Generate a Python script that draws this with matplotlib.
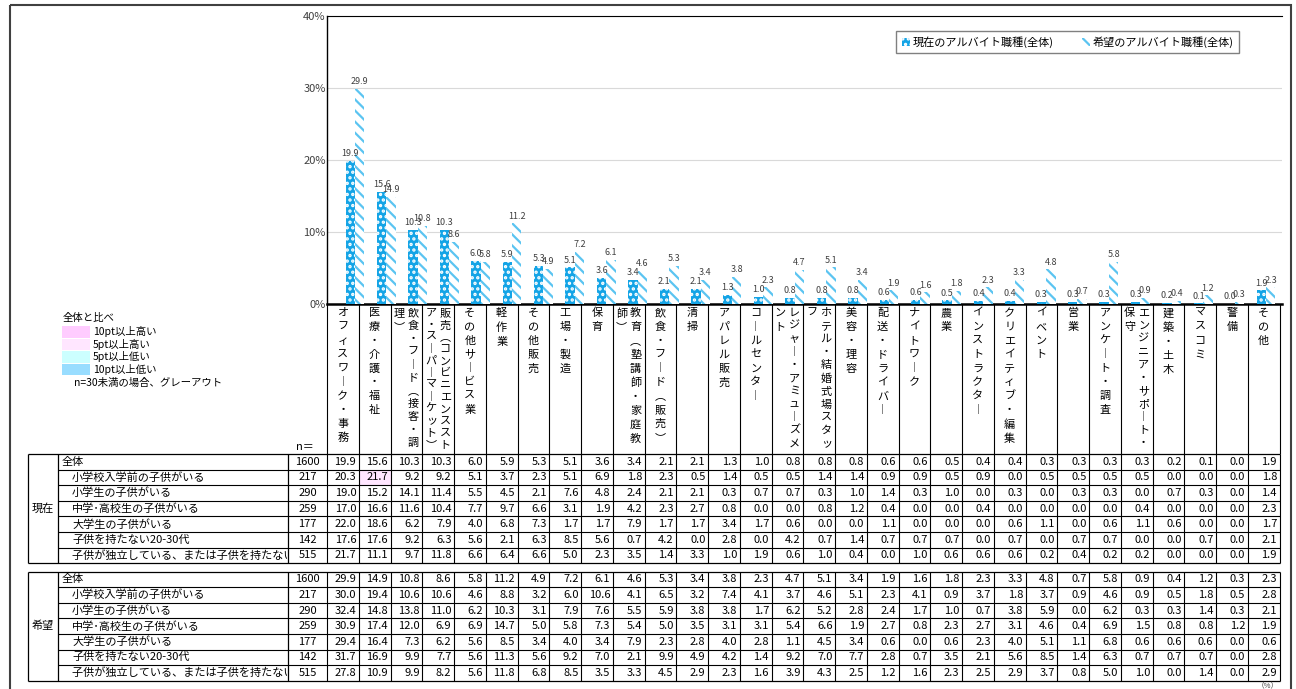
import numpy as np
import matplotlib.pyplot as plt
from matplotlib.patches import Rectangle
from matplotlib.transforms import Bbox, TransformedBbox

plt.rcParams['font.family'] = ['Noto Sans CJK JP', 'DejaVu Sans']
plt.rcParams['hatch.linewidth'] = 1.6

# ---- data ----
categories = ['オフィスワーク・事務', '医療・介護・福祉', '飲食・フード（接客・調理）',
              '販売（コンビニエンスストア・スーパーマーケット）', 'その他サービス業', '軽作業',
              'その他販売', '工場・製造', '保育', '教育（塾講師・家庭教師）', '飲食・フード（販売）',
              '清掃', 'アパレル販売', 'コールセンター', 'レジャー・アミューズメント',
              'ホテル・結婚式場スタッフ', '美容・理容', '配送・ドライバー', 'ナイトワーク', '農業',
              'インストラクター', 'クリエイティブ・編集', 'イベント', '営業', 'アンケート・調査',
              'エンジニア・サポート・保守', '建築・土木', 'マスコミ', '警備', 'その他']
# number of characters in the first (right) column of a wrapped vertical label, 0 = no wrap
label_split = [0, 0, 11, 12, 0, 0, 0, 0, 0, 10, 0, 0, 0, 0, 11,
               11, 0, 0, 0, 0, 0, 0, 0, 0, 0, 11, 0, 0, 0, 0]

now_all = [19.9, 15.6, 10.3, 10.3, 6.0, 5.9, 5.3, 5.1, 3.6, 3.4, 2.1, 2.1, 1.3, 1.0, 0.8,
           0.8, 0.8, 0.6, 0.6, 0.5, 0.4, 0.4, 0.3, 0.3, 0.3, 0.3, 0.2, 0.1, 0.0, 1.9]
hope_all = [29.9, 14.9, 10.8, 8.6, 5.8, 11.2, 4.9, 7.2, 6.1, 4.6, 5.3, 3.4, 3.8, 2.3, 4.7,
            5.1, 3.4, 1.9, 1.6, 1.8, 2.3, 3.3, 4.8, 0.7, 5.8, 0.9, 0.4, 1.2, 0.3, 2.3]

row_labels = ['全体', '小学校入学前の子供がいる', '小学生の子供がいる', '中学･高校生の子供がいる',
              '大学生の子供がいる', '子供を持たない20-30代', '子供が独立している、または子供を持たない40 50代']
row_n = [1600, 217, 290, 259, 177, 142, 515]

now_rows = [
    now_all,
    [20.3, 21.7, 9.2, 9.2, 5.1, 3.7, 2.3, 5.1, 6.9, 1.8, 2.3, 0.5, 1.4, 0.5, 0.5,
     1.4, 1.4, 0.9, 0.9, 0.5, 0.9, 0.0, 0.5, 0.5, 0.5, 0.5, 0.0, 0.0, 0.0, 1.8],
    [19.0, 15.2, 14.1, 11.4, 5.5, 4.5, 2.1, 7.6, 4.8, 2.4, 2.1, 2.1, 0.3, 0.7, 0.7,
     0.3, 1.0, 1.4, 0.3, 1.0, 0.0, 0.3, 0.0, 0.3, 0.3, 0.0, 0.7, 0.3, 0.0, 1.4],
    [17.0, 16.6, 11.6, 10.4, 7.7, 9.7, 6.6, 3.1, 1.9, 4.2, 2.3, 2.7, 0.8, 0.0, 0.0,
     0.8, 1.2, 0.4, 0.0, 0.0, 0.4, 0.0, 0.0, 0.0, 0.0, 0.4, 0.0, 0.0, 0.0, 2.3],
    [22.0, 18.6, 6.2, 7.9, 4.0, 6.8, 7.3, 1.7, 1.7, 7.9, 1.7, 1.7, 3.4, 1.7, 0.6,
     0.0, 0.0, 1.1, 0.0, 0.0, 0.0, 0.6, 1.1, 0.0, 0.6, 1.1, 0.6, 0.0, 0.0, 1.7],
    [17.6, 17.6, 9.2, 6.3, 5.6, 2.1, 6.3, 8.5, 5.6, 0.7, 4.2, 0.0, 2.8, 0.0, 4.2,
     0.7, 1.4, 0.7, 0.7, 0.7, 0.0, 0.7, 0.0, 0.7, 0.7, 0.0, 0.0, 0.7, 0.0, 2.1],
    [21.7, 11.1, 9.7, 11.8, 6.6, 6.4, 6.6, 5.0, 2.3, 3.5, 1.4, 3.3, 1.0, 1.9, 0.6,
     1.0, 0.4, 0.0, 1.0, 0.6, 0.6, 0.6, 0.2, 0.4, 0.2, 0.2, 0.0, 0.0, 0.0, 1.9],
]
hope_rows = [
    hope_all,
    [30.0, 19.4, 10.6, 10.6, 4.6, 8.8, 3.2, 6.0, 10.6, 4.1, 6.5, 3.2, 7.4, 4.1, 3.7,
     4.6, 5.1, 2.3, 4.1, 0.9, 3.7, 1.8, 3.7, 0.9, 4.6, 0.9, 0.5, 1.8, 0.5, 2.8],
    [32.4, 14.8, 13.8, 11.0, 6.2, 10.3, 3.1, 7.9, 7.6, 5.5, 5.9, 3.8, 3.8, 1.7, 6.2,
     5.2, 2.8, 2.4, 1.7, 1.0, 0.7, 3.8, 5.9, 0.0, 6.2, 0.3, 0.3, 1.4, 0.3, 2.1],
    [30.9, 17.4, 12.0, 6.9, 6.9, 14.7, 5.0, 5.8, 7.3, 5.4, 5.0, 3.5, 3.1, 3.1, 5.4,
     6.6, 1.9, 2.7, 0.8, 2.3, 2.7, 3.1, 4.6, 0.4, 6.9, 1.5, 0.8, 0.8, 1.2, 1.9],
    [29.4, 16.4, 7.3, 6.2, 5.6, 8.5, 3.4, 4.0, 3.4, 7.9, 2.3, 2.8, 4.0, 2.8, 1.1,
     4.5, 3.4, 0.6, 0.0, 0.6, 2.3, 4.0, 5.1, 1.1, 6.8, 0.6, 0.6, 0.6, 0.0, 0.6],
    [31.7, 16.9, 9.9, 7.7, 5.6, 11.3, 5.6, 9.2, 7.0, 2.1, 9.9, 4.9, 4.2, 1.4, 9.2,
     7.0, 7.7, 2.8, 0.7, 3.5, 2.1, 5.6, 8.5, 1.4, 6.3, 0.7, 0.7, 0.7, 0.0, 2.8],
    [27.8, 10.9, 9.9, 8.2, 5.6, 11.8, 6.8, 8.5, 3.5, 3.3, 4.5, 2.9, 2.3, 1.6, 3.9,
     4.3, 2.5, 1.2, 1.6, 2.3, 2.5, 2.9, 3.7, 0.8, 5.0, 1.0, 0.0, 1.4, 0.0, 2.9],
]

diff_labels = ['10pt以上高い', '5pt以上高い', '5pt以上低い', '10pt以上低い']
diff_colors = ['#FFCCFF', '#FFE6FF', '#CCFFFF', '#99DDFF']

BLUE = '#14A4E6'
STRIPE = '#5BC4F1'
W, H = 1296, 689


def fx(px):
    return px / W


def fy(py):
    return 1 - py / H


def vert(s):
    # vertical presentation forms for stacked text
    return '\n'.join(s.replace('（', '︵').replace('）', '︶').replace('ー', '︱'))


def vtext(ov, x, s):
    n = len(s)
    pitch = min(13.3, 124.0 / max(n - 1, 1))
    ov.text(x, 308, vert(s), ha='center', va='top', fontsize=8, linespacing=pitch / 9.0)


def main():
    fig = plt.figure(figsize=(W / 100, H / 100), dpi=100)

    # pixel overlay for table / labels
    ov = fig.add_axes([0, 0, 1, 1])
    ov.set_xlim(0, W)
    ov.set_ylim(H, 0)
    ov.axis('off')

    # bar chart
    ax = fig.add_axes([fx(327), fy(304), fx(1282) - fx(327), fy(16) - fy(304)])
    ax.set_facecolor('none')
    x = np.arange(len(categories))
    b1 = ax.bar(x - 0.15, now_all, width=0.3, color=BLUE, edgecolor='white',
                hatch='...', linewidth=0, zorder=3)
    b2 = ax.bar(x + 0.15, hope_all, width=0.3, color='white', edgecolor=STRIPE,
                hatch='\\\\\\', linewidth=0, zorder=3)
    ax.bar_label(b1, fmt='%.1f', padding=2, fontsize=6.5, color='#404040')
    ax.bar_label(b2, fmt='%.1f', padding=2, fontsize=6.5, color='#404040')
    ax.set_xlim(-0.89, 29.51)
    ax.set_ylim(0, 40)
    ax.set_yticks(np.arange(0, 41, 10))
    ax.set_yticklabels(['%d%%' % t for t in range(0, 41, 10)])
    ax.set_xticks([])
    ax.tick_params(axis='y', length=0, pad=1, labelsize=8, labelcolor='#404040')
    ax.grid(axis='y', color='#D9D9D9', lw=0.8, zorder=0)
    ax.spines['right'].set_visible(False)
    ax.spines['left'].set_linewidth(1.0)
    ax.spines['top'].set_linewidth(0.8)
    ax.spines['bottom'].set_linewidth(1.8)

    ax.legend([b1, b2], ['現在のアルバイト職種(全体)', '希望のアルバイト職種(全体)'],
              loc='upper right', bbox_to_anchor=(fx(1245), fy(25)),
              bbox_transform=fig.transFigure, ncol=2, fontsize=8, fancybox=False,
              edgecolor='#808080', framealpha=1, handlelength=0.7, handleheight=0.7,
              columnspacing=2.5, handletextpad=0.3, borderpad=0.5)

    # column grid
    col_x0, col_w = 327, 31.75
    edges = col_x0 + col_w * np.arange(len(categories) + 1)
    ov.vlines(edges, 304, 454, color='black', lw=0.8)

    for i, name in enumerate(categories):
        cx = edges[i] + col_w / 2
        k = label_split[i]
        if k:
            vtext(ov, cx + 7, name[:k])
            vtext(ov, cx - 7, name[k:])
        else:
            vtext(ov, cx, name)

    ov.text(305, 447, 'n＝', ha='center', va='center', fontsize=8)

    # tables
    row_h = 15.6
    for top, group, rows in [(454, '現在', now_rows), (571.5, '希望', hope_rows)]:
        bottom = top + row_h * len(rows)
        base = rows[0]
        for r, vals in enumerate(rows):
            y0 = top + r * row_h
            yc = y0 + row_h / 2
            for j, v in enumerate(vals):
                d = v - base[j]
                color = None
                if row_n[r] < 30:
                    color = '#D9D9D9'
                elif r > 0 and d >= 10:
                    color = diff_colors[0]
                elif r > 0 and d >= 5:
                    color = diff_colors[1]
                elif r > 0 and d <= -10:
                    color = diff_colors[3]
                elif r > 0 and d <= -5:
                    color = diff_colors[2]
                if color:
                    ov.add_patch(Rectangle((edges[j], y0), col_w, row_h, facecolor=color,
                                           edgecolor='none', zorder=0))
                ov.text(edges[j + 1] - 2.5, yc, '%.1f' % v, ha='right', va='center',
                        fontsize=8)
            ov.text(307.5, yc, str(row_n[r]), ha='center', va='center', fontsize=8)
            t = ov.text(62 if r == 0 else 72, yc, row_labels[r], ha='left', va='center',
                        fontsize=8, clip_on=True)
            t.set_clip_box(TransformedBbox(Bbox.from_extents(58, y0, 287, y0 + row_h),
                                           ov.transData))
            if r > 0:
                ov.hlines(y0, 58, edges[-1], color='black', lw=0.8)
        ov.hlines([top, bottom], 28, edges[-1], color='black', lw=0.9)
        ov.vlines([28, 58, 288], top, bottom, color='black', lw=0.9)
        ov.vlines(edges, top, bottom, color='black', lw=0.8)
        ov.text(43, (top + bottom) / 2, group, ha='center', va='center', fontsize=8)

    # left legend
    ov.text(63, 318, '全体と比べ', ha='left', va='center', fontsize=7.5)
    for k, (lab, col) in enumerate(zip(diff_labels, diff_colors)):
        y0 = 326 + k * 12.6
        ov.add_patch(Rectangle((62, y0), 28, 11.5, facecolor=col, edgecolor='none'))
        ov.text(93, y0 + 5.8, lab, ha='left', va='center', fontsize=7.5)
    ov.text(74, 383, 'n=30未満の場合、グレーアウト', ha='left', va='center', fontsize=7.5)

    ov.text(1268, 686, '（%）', ha='center', va='center', fontsize=5.5, color='#404040')

    # outer frame
    ov.add_patch(Rectangle((10, 5), 1281, 700, fill=False, edgecolor='#404040', lw=1.5))

    fig.savefig('out.png', dpi=100)


if __name__ == '__main__':
    main()
